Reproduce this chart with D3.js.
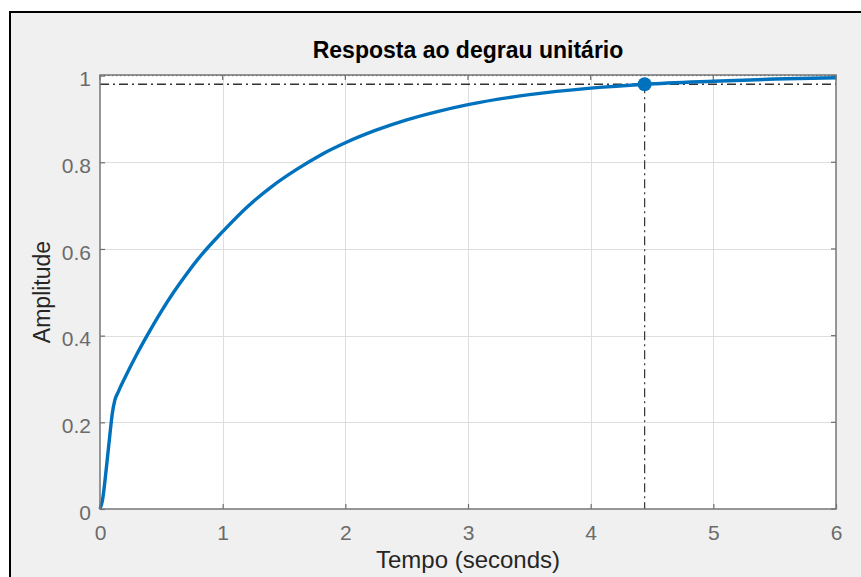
<!DOCTYPE html>
<html>
<head>
<meta charset="utf-8">
<script src="https://cdn.jsdelivr.net/npm/d3@7"></script>
<style>
  html, body { margin: 0; padding: 0; background: #ffffff; }
  svg { display: block; }
</style>
</head>
<body>
<svg id="chart" width="861" height="577"></svg>
<script>
// Step response samples (time in seconds, amplitude)
const timeValues = [0, 0.02, 0.05, 0.08, 0.1, 0.12, 0.15, 0.2, 0.3, 0.4, 0.5, 0.6, 0.7, 0.8, 1.0, 1.2, 1.4, 1.6, 1.8, 2.0, 2.25, 2.5, 2.75, 3.0, 3.5, 4.0, 4.44, 5.0, 5.5, 6.0];
const amplitudeValues = [0, 0.02, 0.09, 0.17, 0.22, 0.25, 0.271, 0.301, 0.357, 0.408, 0.456, 0.50, 0.54, 0.577, 0.64, 0.697, 0.744, 0.783, 0.817, 0.845, 0.874, 0.898, 0.917, 0.933, 0.956, 0.971, 0.98, 0.987, 0.992, 0.995];

// Settling-time marker and reference levels
const settlingTime = [4.44];
const settlingLevel = [0.98];
const finalValue = [1];

// Axis ticks
const xTicks = [0, 1, 2, 3, 4, 5, 6];
const yTicks = [0, 0.2, 0.4, 0.6, 0.8, 1];
const yTickLabels = ["0", "0.2", "0.4", "0.6", "0.8", "1"];

const titleText = "Resposta ao degrau unitário";
const xLabelText = "Tempo (seconds)";
const yLabelText = "Amplitude";

const svg = d3.select("#chart");
const W = 861, H = 577;
const FONT = "'Liberation Sans', Arial, sans-serif";

// Figure window background with its frame
svg.append("rect").attr("x", 0).attr("y", 0).attr("width", W).attr("height", H).attr("fill", "#ffffff");
svg.append("rect")
  .attr("x", 10).attr("y", 12).attr("width", W + 20).attr("height", H + 20)
  .attr("fill", "#f0f0f0").attr("stroke", "#000000").attr("stroke-width", 2);

const plot = { left: 100, right: 836, top: 75, bottom: 509 };

const x = d3.scaleLinear().domain([0, 6]).range([plot.left, plot.right]);
const y = d3.scaleLinear().domain([0, 1]).range([plot.bottom, plot.top + 0.6]);

// Plot area
svg.append("rect")
  .attr("x", plot.left).attr("y", plot.top)
  .attr("width", plot.right - plot.left).attr("height", plot.bottom - plot.top)
  .attr("fill", "#ffffff");

// Grid
const grid = svg.append("g").attr("stroke", "#dedede").attr("stroke-width", 1);
grid.selectAll("line.gx").data(xTicks.filter(d => d > 0 && d < 6)).enter().append("line")
  .attr("x1", d => Math.round(x(d)) + 0.5).attr("x2", d => Math.round(x(d)) + 0.5)
  .attr("y1", plot.top).attr("y2", plot.bottom);
grid.selectAll("line.gy").data(yTicks.filter(d => d > 0 && d < 1)).enter().append("line")
  .attr("x1", plot.left).attr("x2", plot.right)
  .attr("y1", d => Math.round(y(d)) + 0.5).attr("y2", d => Math.round(y(d)) + 0.5);

// Final value (dotted) and settling band level (dash-dot)
svg.append("line")
  .attr("x1", x(0)).attr("x2", x(6))
  .attr("y1", y(finalValue[0])).attr("y2", y(finalValue[0]))
  .attr("stroke", "#444").attr("stroke-width", 1).attr("stroke-dasharray", "1.5,2.5");
svg.append("line")
  .attr("x1", x(0)).attr("x2", x(6))
  .attr("y1", y(settlingLevel[0])).attr("y2", y(settlingLevel[0]))
  .attr("stroke", "#333").attr("stroke-width", 1.4).attr("stroke-dasharray", "9,4,2,4");
svg.append("line")
  .attr("x1", x(settlingTime[0])).attr("x2", x(settlingTime[0]))
  .attr("y1", y(settlingLevel[0])).attr("y2", y(0))
  .attr("stroke", "#333").attr("stroke-width", 1.2).attr("stroke-dasharray", "9,4,2,4");

// Axes (box with inward ticks)
const xAxis = d3.axisBottom(x).tickValues(xTicks).tickSize(-5).tickPadding(16).tickFormat(d3.format("d"));
const yAxis = d3.axisLeft(y).tickValues(yTicks).tickSize(-5).tickPadding(9).tickFormat((d, i) => yTickLabels[i]);

const gx = svg.append("g").attr("transform", `translate(0,${plot.bottom})`).call(xAxis);
const gy = svg.append("g").attr("transform", `translate(${plot.left},0)`).call(yAxis);
[gx, gy].forEach(g => {
  g.select(".domain").remove();
  g.selectAll(".tick line").attr("stroke", "#6e6e6e").attr("stroke-width", 1.2);
  g.selectAll(".tick text")
    .attr("fill", "#6b6b6b")
    .style("font-family", FONT)
    .style("font-size", "21px");
});
gx.selectAll(".tick text").attr("dy", "0.71em");
gy.selectAll(".tick text").attr("dy", "0.48em");

// Top and right ticks
svg.append("g").selectAll("line").data(xTicks).enter().append("line")
  .attr("x1", d => x(d)).attr("x2", d => x(d))
  .attr("y1", plot.top).attr("y2", plot.top + 5)
  .attr("stroke", "#6e6e6e").attr("stroke-width", 1.2);
svg.append("g").selectAll("line").data(yTicks).enter().append("line")
  .attr("x1", plot.right).attr("x2", plot.right - 5)
  .attr("y1", d => y(d)).attr("y2", d => y(d))
  .attr("stroke", "#6e6e6e").attr("stroke-width", 1.2);

// Response curve
const pts = timeValues.map((t, i) => [t, amplitudeValues[i]]);
const line = d3.line().x(d => x(d[0])).y(d => y(d[1])).curve(d3.curveMonotoneX);
svg.append("path").datum(pts)
  .attr("d", line)
  .attr("fill", "none")
  .attr("stroke", "#0072BD")
  .attr("stroke-width", 3.4)
  .attr("stroke-linejoin", "round");

// Axes box
svg.append("rect")
  .attr("x", plot.left).attr("y", plot.top)
  .attr("width", plot.right - plot.left).attr("height", plot.bottom - plot.top)
  .attr("fill", "none").attr("stroke", "#767676").attr("stroke-width", 1.5);

// Settling-time marker
svg.append("circle")
  .attr("cx", x(settlingTime[0])).attr("cy", y(settlingLevel[0]))
  .attr("r", 7).attr("fill", "#0072BD");

// Title and axis labels
svg.append("text")
  .attr("x", (plot.left + plot.right) / 2).attr("y", 58)
  .attr("text-anchor", "middle")
  .attr("fill", "#000")
  .style("font-family", FONT)
  .style("font-size", "23px").style("font-weight", "bold")
  .text(titleText);

svg.append("text")
  .attr("x", (plot.left + plot.right) / 2).attr("y", 568)
  .attr("text-anchor", "middle")
  .attr("fill", "#262626")
  .style("font-family", FONT)
  .style("font-size", "24px")
  .text(xLabelText);

svg.append("text")
  .attr("transform", `translate(50,${(plot.top + plot.bottom) / 2}) rotate(-90)`)
  .attr("text-anchor", "middle")
  .attr("fill", "#262626")
  .style("font-family", FONT)
  .style("font-size", "23px")
  .text(yLabelText);
</script>
</body>
</html>
